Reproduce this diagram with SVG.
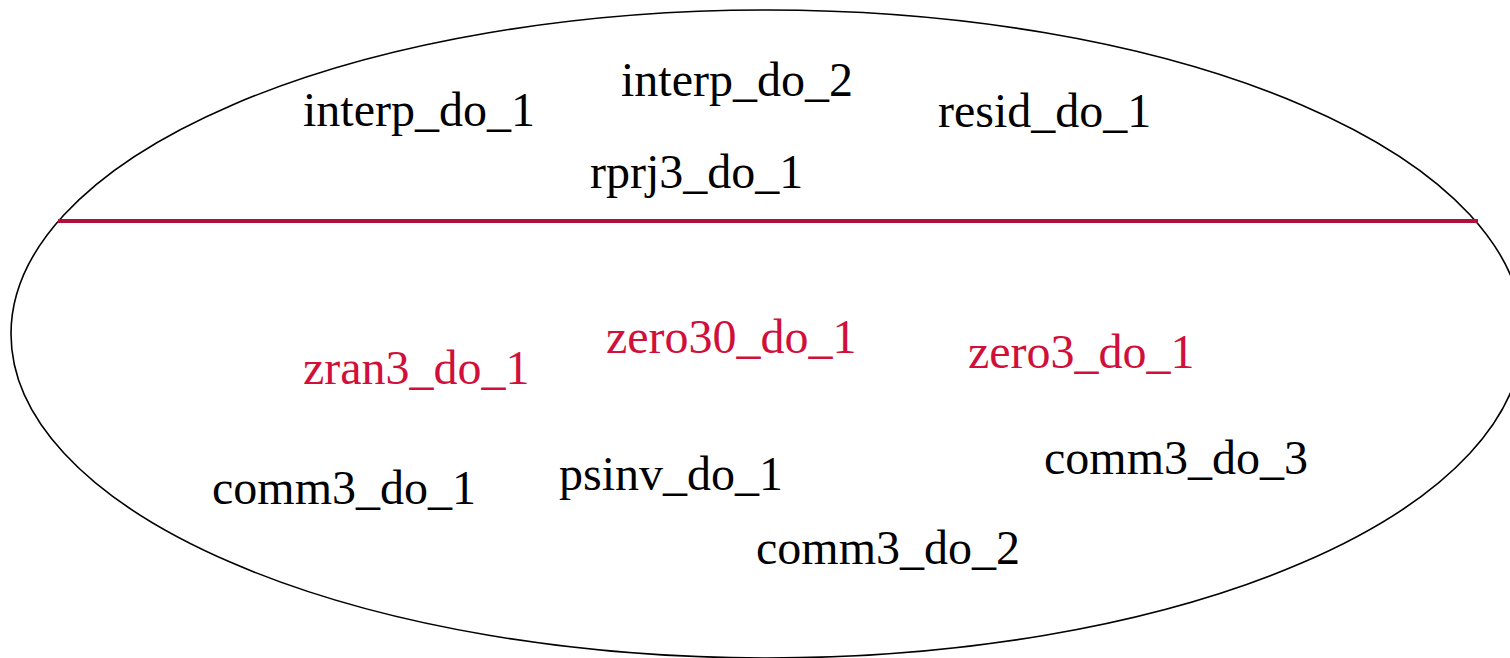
<svg xmlns="http://www.w3.org/2000/svg" width="1510" height="658" viewBox="0 0 1510 658">
  <style>
    .lbl { font-family: "Liberation Serif", "Times New Roman", serif; font-size: 48px; fill: #000000; }
    .hot { fill: #d0103a; }
    .outline { fill: none; stroke: #000000; stroke-width: 1.6; }
    .divider { stroke: #b0103a; stroke-width: 4; }
  </style>
  <rect x="0" y="0" width="1510" height="658" fill="#ffffff"/>
  <g id="region">
    <ellipse class="outline" cx="767" cy="334" rx="756" ry="324"/>
  </g>
  <g id="connectors">
    <line class="divider" x1="58" y1="221" x2="1478" y2="221"/>
  </g>
  <g id="interp_do_1"><text class="lbl" x="303" y="126">interp_do_1</text></g>
  <g id="interp_do_2"><text class="lbl" x="621" y="96">interp_do_2</text></g>
  <g id="resid_do_1"><text class="lbl" x="938" y="127">resid_do_1</text></g>
  <g id="rprj3_do_1"><text class="lbl" x="590" y="188">rprj3_do_1</text></g>
  <g id="zran3_do_1"><text class="lbl hot" x="303" y="384">zran3_do_1</text></g>
  <g id="zero30_do_1"><text class="lbl hot" x="606" y="353">zero30_do_1</text></g>
  <g id="zero3_do_1"><text class="lbl hot" x="968" y="368">zero3_do_1</text></g>
  <g id="comm3_do_1"><text class="lbl" x="212" y="504">comm3_do_1</text></g>
  <g id="psinv_do_1"><text class="lbl" x="559" y="490">psinv_do_1</text></g>
  <g id="comm3_do_3"><text class="lbl" x="1044" y="474">comm3_do_3</text></g>
  <g id="comm3_do_2"><text class="lbl" x="756" y="564">comm3_do_2</text></g>
</svg>
